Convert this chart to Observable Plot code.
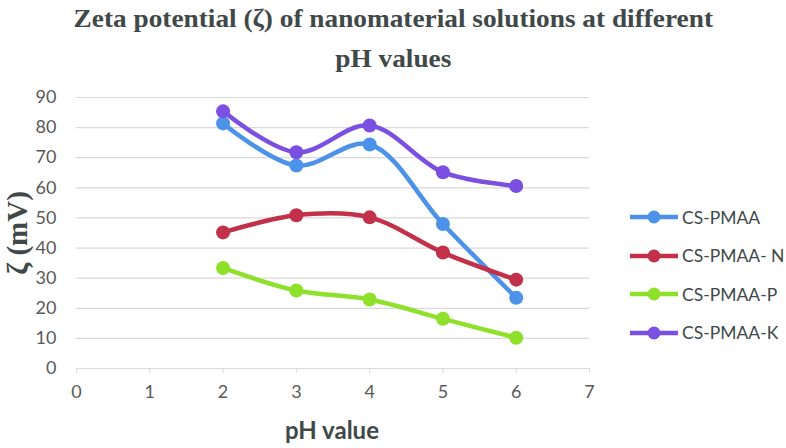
<!DOCTYPE html>
<html>
<head>
<meta charset="utf-8">
<script src="https://cdn.jsdelivr.net/npm/d3@7"></script>
<script src="https://cdn.jsdelivr.net/npm/@observablehq/plot@0.6"></script>
<style>
  html, body { margin: 0; padding: 0; background: #fff; }
  #wrap { position: relative; width: 786px; height: 448px; overflow: hidden; }
  #title { position: absolute; left: 0; top: -1px; width: 786px; text-align: center;
    font-family: "Liberation Serif", "DejaVu Serif", serif; font-weight: bold; font-size: 26px;
    line-height: 40px; color: #404848; transform: scaleX(1.05); transform-origin: 387px 0; }
  #chart { position: absolute; left: 0; top: 78px; }
  #legend { position: absolute; left: 630px; top: 198px; font-family: Lato, "Open Sans", sans-serif;
    font-size: 17.5px; color: #404848; }
  .item { display: flex; align-items: center; height: 38.5px; }
  .item svg { margin-right: 2px; }
</style>
</head>
<body>
<div id="wrap">
  <div id="title">Zeta potential (ζ) of nanomaterial solutions at different<br>pH values</div>
  <div id="chart"></div>
  <div id="legend"></div>
</div>
<script>
const pH = [2, 3, 4, 5, 6];
const seriesNames = ["CS-PMAA", "CS-PMAA- N", "CS-PMAA-P", "CS-PMAA-K"];
const csPmaa  = [81.4, 67.4, 74.4, 48.0, 23.5];
const csPmaaN = [45.2, 50.9, 50.2, 38.5, 29.5];
const csPmaaP = [33.4, 25.9, 22.9, 16.5, 10.2];
const csPmaaK = [85.4, 71.8, 80.7, 65.2, 60.6];
const colors  = ["#4b92e8", "#c2304a", "#8ee02b", "#7a4fe2"];
const xTicks = [0, 1, 2, 3, 4, 5, 6, 7];
const yTicks = [0, 10, 20, 30, 40, 50, 60, 70, 80, 90];

const allSeries = [csPmaa, csPmaaN, csPmaaP, csPmaaK];
const rows = [];
allSeries.forEach((vals, i) => vals.forEach((v, j) => rows.push({series: seriesNames[i], pH: pH[j], z: v})));

const tickFont = 'Lato, "Open Sans", sans-serif';

const plot = Plot.plot({
  width: 786,
  height: 370,
  marginLeft: 76,
  marginRight: 197,
  marginTop: 19,
  marginBottom: 80,
  style: { fontFamily: tickFont, fontSize: "18px", color: "#595959", background: "transparent" },
  x: { domain: [0, 7], ticks: xTicks, label: null },
  y: { domain: [0, 90], ticks: yTicks, label: null },
  color: { domain: seriesNames, range: colors },
  marks: [
    Plot.gridY(yTicks, { stroke: "#d9d9d9", strokeOpacity: 1, strokeWidth: 1.2 }),
    Plot.ruleY([0], { stroke: "#d9d9d9", strokeWidth: 1.2 }),
    Plot.axisY({ ticks: yTicks, tickSize: 0, tickPadding: 20, fontSize: 18, fill: "#595959", label: null }),
    Plot.axisX({ ticks: xTicks, tickFormat: "d", tickSize: 5, stroke: "#d9d9d9", tickPadding: 12, fontSize: 18, fill: "#595959", label: null }),
    Plot.line(rows, { x: "pH", y: "z", z: "series", stroke: "series", strokeWidth: 4.5, curve: "catmull-rom" }),
    Plot.dot(rows, { x: "pH", y: "z", fill: "series", r: 7 }),
    Plot.text(["pH value"], { frameAnchor: "bottom", dx: -1, dy: 63, lineAnchor: "middle", textAnchor: "middle", text: d => d,
      fontSize: 24, fontWeight: "bold", fill: "#404848", fontFamily: tickFont }),
    Plot.text(["ζ (mV)"], { frameAnchor: "left", dx: -59, dy: 0, rotate: -90, textAnchor: "middle", lineAnchor: "middle", text: d => d,
      fontSize: 29, fontWeight: "bold", fill: "#404848", fontFamily: '"Liberation Serif", serif' })
  ]
});
document.getElementById("chart").appendChild(plot);

const legend = document.getElementById("legend");
seriesNames.forEach((name, i) => {
  const div = document.createElement("div");
  div.className = "item";
  div.innerHTML = `<svg width="50" height="16"><line x1="0" y1="8" x2="48" y2="8" stroke="${colors[i]}" stroke-width="4.5"/><circle cx="24" cy="8" r="6.5" fill="${colors[i]}"/></svg><span>${name}</span>`;
  legend.appendChild(div);
});
</script>
</body>
</html>
